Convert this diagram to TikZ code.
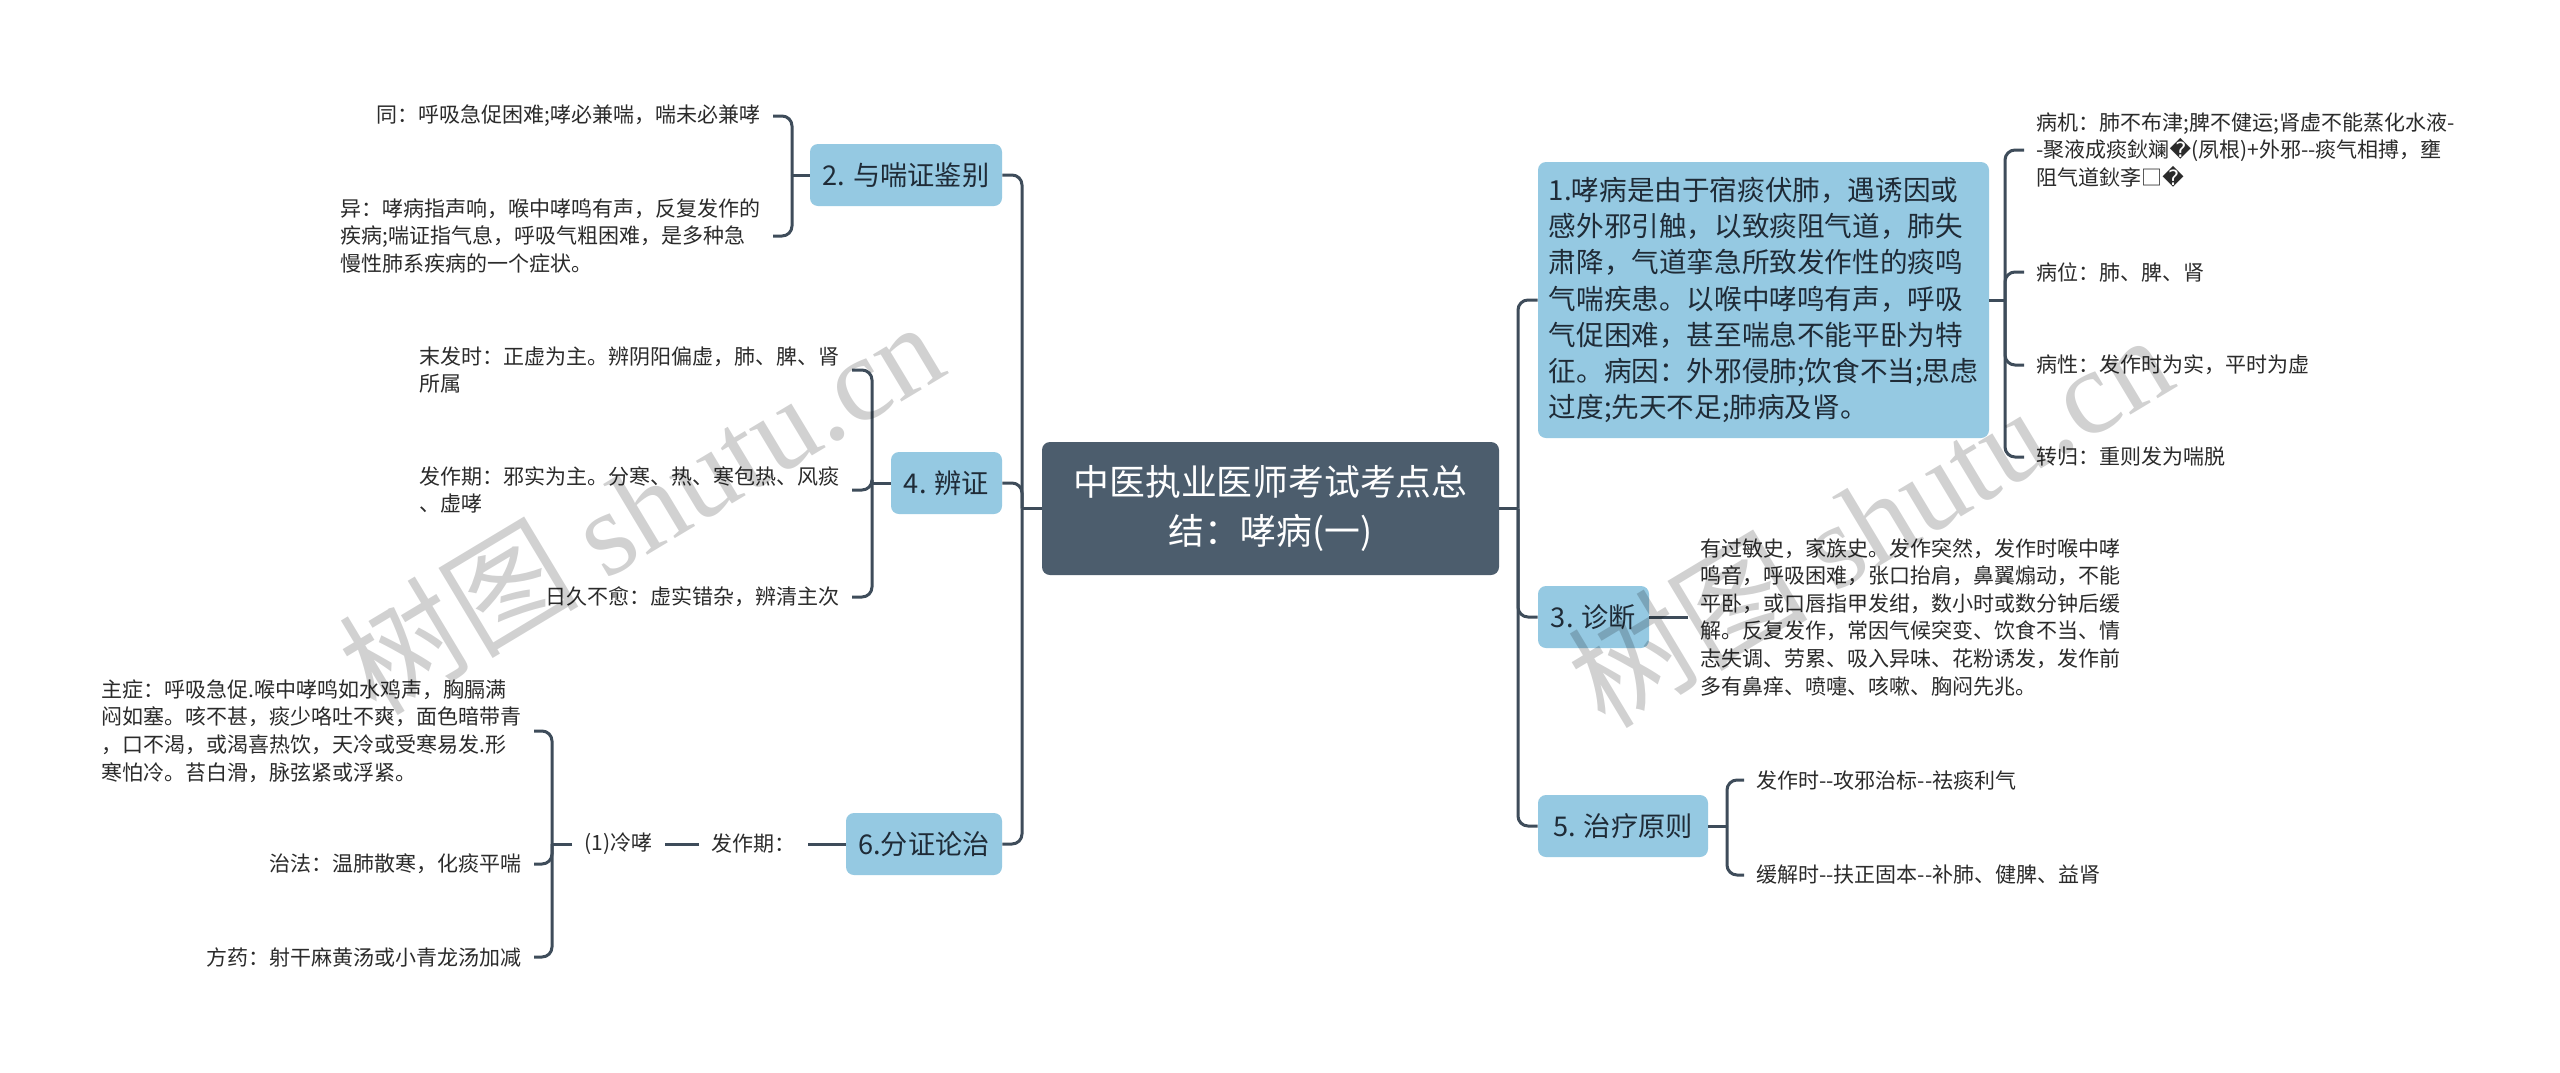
\documentclass[tikz,border=0pt]{standalone}
\usepackage{fontspec}
\setmainfont{Noto Sans CJK SC}
\newfontfamily\dvs{DejaVu Sans}
\newfontfamily\wmserif{Liberation Serif}
\definecolor{linec}{HTML}{3E4C5A}
\definecolor{rootc}{HTML}{4C5D6D}
\definecolor{topicc}{HTML}{95C9E2}
\definecolor{topict}{HTML}{1F2B37}
\definecolor{leaft}{HTML}{2B2B2B}
\newcommand{\dd}{-{}-}
\begin{document}
\begin{tikzpicture}[x=0.5pt,y=-0.5pt,
  conn/.style={draw=linec, line width=1.5pt, rounded corners=5pt},
  rootbox/.style={fill=rootc, rounded corners=4pt, text=white, align=center,
    font=\fontsize{17.9}{24.5}\selectfont, inner sep=0pt},
  topic/.style={fill=topicc, rounded corners=4pt, text=topict,
    font=\fontsize{13.6}{18}\selectfont, minimum height=31pt, inner sep=0pt},
  leaf/.style={text=leaft, font=\fontsize{10.5}{13.8}\selectfont, inner xsep=6pt, inner ysep=2pt},
  wmark/.style={text=black, opacity=0.18, rotate=31}
]
\useasboundingbox (0,0) rectangle (2560,1072);
\fill[white] (0,0) rectangle (2560,1072);

% root
\node[rootbox, minimum width=228.5pt, minimum height=66.5pt] (root) at (1270.5,508.5)
  {中医执业医师考试考点总\\结：哮病(一)};

% left topics
\node[topic, minimum width=96pt] (n2) at (906,175) {2. 与喘证鉴别};
\node[topic, minimum width=55.5pt] (n4) at (946.5,483) {4. 辨证};
\node[topic, minimum width=78pt] (n6) at (924,844) {6.分证论治};

% right topics
\node[topic, minimum width=225.5pt, minimum height=138pt, align=left,
  font=\fontsize{13.8}{18.1}\selectfont, inner xsep=5pt] (n1) at (1763.5,300)
  {1.哮病是由于宿痰伏肺，遇诱因或\\感外邪引触，以致痰阻气道，肺失\\肃降，气道挛急所致发作性的痰鸣\\气喘疾患。以喉中哮鸣有声，呼吸\\气促困难，甚至喘息不能平卧为特\\征。病因：外邪侵肺;饮食不当;思虑\\过度;先天不足;肺病及肾。};
\node[topic, minimum width=55.5pt] (n3) at (1593.5,617) {3. 诊断};
\node[topic, minimum width=85pt] (n5) at (1623,826) {5. 治疗原则};

% trunks
\coordinate (tL) at (1022,508.5);
\coordinate (tR) at (1518,508.5);
\draw[conn] (root.west) -- (tL);
\draw[conn] (tL) |- (n2.east);
\draw[conn] (tL) |- (n4.east);
\draw[conn] (tL) |- (n6.east);
\draw[conn] (root.east) -- (tR);
\draw[conn] (tR) |- (n1.west);
\draw[conn] (tR) |- (n3.west);
\draw[conn] (tR) |- (n5.west);

% node 2 children
\node[leaf, anchor=east] (c21) at (773,116) {同：呼吸急促困难;哮必兼喘，喘未必兼哮};
\node[leaf, anchor=east, align=left] (c22) at (773,236)
  {异：哮病指声响，喉中哮鸣有声，反复发作的\\疾病;喘证指气息，呼吸气粗困难，是多种急\\慢性肺系疾病的一个症状。};
\coordinate (b2) at (792,175);
\draw[conn] (n2.west) -- (b2);
\draw[conn] (b2) |- (c21.east);
\draw[conn] (b2) |- (c22.east);

% node 4 children
\node[leaf, anchor=east, align=left] (c41) at (852,370)
  {末发时：正虚为主。辨阴阳偏虚，肺、脾、肾\\所属};
\node[leaf, anchor=east, align=left] (c42) at (852,490)
  {发作期：邪实为主。分寒、热、寒包热、风痰\\、虚哮};
\node[leaf, anchor=east] (c43) at (852,597) {日久不愈：虚实错杂，辨清主次};
\coordinate (b4) at (872,483);
\draw[conn] (n4.west) -- (b4);
\draw[conn] (b4) |- (c41.east);
\draw[conn] (b4) |- (c42.east);
\draw[conn] (b4) |- (c43.east);

% node 6 chain
\node[leaf, anchor=east] (f6) at (808,844) {发作期：};
\node[leaf, anchor=east] (lx) at (665,844) {(1)冷哮};
\draw[conn] (n6.west) -- (f6.east);
\draw[conn] (f6.west) -- (lx.east);
\node[leaf, anchor=east, align=left] (c61) at (534,731)
  {主症：呼吸急促.喉中哮鸣如水鸡声，胸膈满\\闷如塞。咳不甚，痰少咯吐不爽，面色暗带青\\，口不渴，或渴喜热饮，天冷或受寒易发.形\\寒怕冷。苔白滑，脉弦紧或浮紧。};
\node[leaf, anchor=east] (c62) at (534,864) {治法：温肺散寒，化痰平喘};
\node[leaf, anchor=east] (c63) at (534,957) {方药：射干麻黄汤或小青龙汤加减};
\coordinate (b6) at (552,844);
\draw[conn] (lx.west) -- (b6);
\draw[conn] (b6) |- (c61.east);
\draw[conn] (b6) |- (c62.east);
\draw[conn] (b6) |- (c63.east);

% node 1 children
\node[leaf, anchor=west, align=left] (r11) at (2024,150)
  {病机：肺不布津;脾不健运;肾虚不能蒸化水液-\\-聚液成痰鈥斓{\dvs �}(夙根)+外邪\dd 痰气相搏，壅\\阻气道鈥斈□{\dvs �}};
\node[leaf, anchor=west] (r12) at (2024,272) {病位：肺、脾、肾};
\node[leaf, anchor=west] (r13) at (2024,365) {病性：发作时为实，平时为虚};
\node[leaf, anchor=west] (r14) at (2024,457) {转归：重则发为喘脱};
\coordinate (b1) at (2005,300);
\draw[conn] (n1.east) -- (b1);
\draw[conn] (b1) |- (r11.west);
\draw[conn] (b1) |- (r12.west);
\draw[conn] (b1) |- (r13.west);
\draw[conn] (b1) |- (r14.west);

% node 3 child
\node[leaf, anchor=west, align=left] (r3) at (1688,617)
  {有过敏史，家族史。发作突然，发作时喉中哮\\鸣音，呼吸困难，张口抬肩，鼻翼煽动，不能\\平卧，或口唇指甲发绀，数小时或数分钟后缓\\解。反复发作，常因气候突变、饮食不当、情\\志失调、劳累、吸入异味、花粉诱发，发作前\\多有鼻痒、喷嚏、咳嗽、胸闷先兆。};
\draw[conn] (n3.east) -- (r3.west);

% node 5 children
\node[leaf, anchor=west] (r51) at (1744,780) {发作时\dd 攻邪治标\dd 祛痰利气};
\node[leaf, anchor=west] (r52) at (1744,875) {缓解时\dd 扶正固本\dd 补肺、健脾、益肾};
\coordinate (b5) at (1727,826);
\draw[conn] (n5.east) -- (b5);
\draw[conn] (b5) |- (r51.west);
\draw[conn] (b5) |- (r52.west);

% watermarks
\node[wmark, font=\fontsize{60}{60}\selectfont] (wm1) at (640,506) {树图 {\wmserif shutu.cn}};
\node[wmark, font=\fontsize{60}{60}\selectfont] (wm2) at (1869,519) {树图 {\wmserif shutu.cn}};
\end{tikzpicture}
\end{document}
